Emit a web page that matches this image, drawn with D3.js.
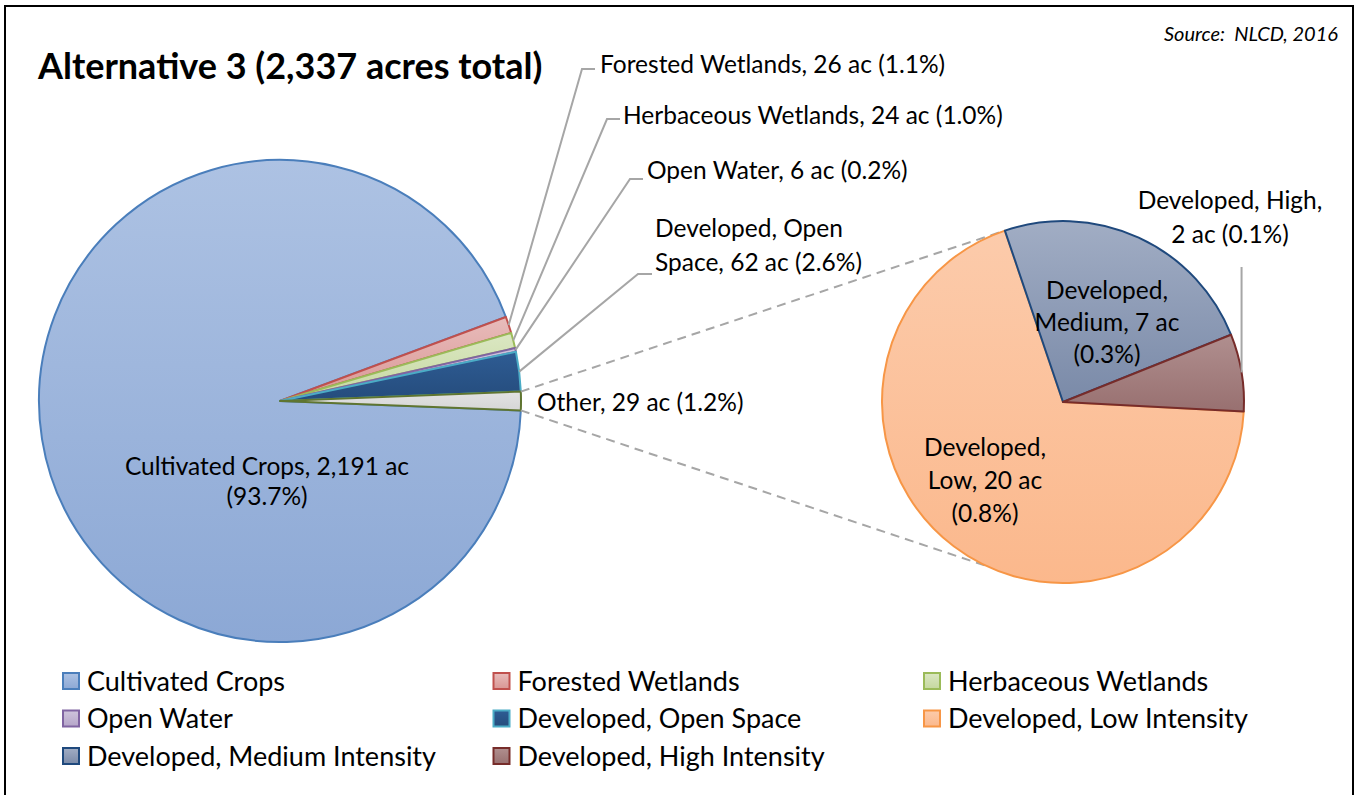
<!doctype html>
<html>
<head>
<meta charset="UTF-8">
<script src="https://cdn.jsdelivr.net/npm/d3@7"></script>
<style>
    body { margin: 0; background: #fff; }
    text { font-family: Lato, "Open Sans", sans-serif; fill: #000; }
</style>
</head>
<body>
<svg id="chart"></svg>
<script>
var width = 1359, height = 795;

// main pie (Other = the three developed classes broken out on the right)
var mainNames = ["Cultivated Crops", "Forested Wetlands", "Herbaceous Wetlands", "Open Water", "Developed, Open Space", "Other"];
var mainAcres = [2191, 26, 24, 6, 62, 29];
var mainPct = ["93.7%", "1.1%", "1.0%", "0.2%", "2.6%", "1.2%"];

// breakout pie
var subNames = ["Developed, Low Intensity", "Developed, Medium Intensity", "Developed, High Intensity"];
var subShort = ["Developed, Low", "Developed, Medium", "Developed, High"];
var subAcres = [20, 7, 2];
var subPct = ["0.8%", "0.3%", "0.1%"];

var legendNames = ["Cultivated Crops", "Forested Wetlands", "Herbaceous Wetlands",
                   "Open Water", "Developed, Open Space", "Developed, Low Intensity",
                   "Developed, Medium Intensity", "Developed, High Intensity"];

// fill top, fill bottom, outline
var colors = {
    "Cultivated Crops":            ["#adc2e3", "#8ca8d5", "#4a7ebb"],
    "Forested Wetlands":           ["#e8bcbb", "#d99694", "#c0504d"],
    "Herbaceous Wetlands":         ["#dbe7c3", "#c5d89f", "#9bbb59"],
    "Open Water":                  ["#cfc4dc", "#b5a5c9", "#8064a2"],
    "Developed, Open Space":       ["#2e5c94", "#254c7c", "#4bacc6"],
    "Other":                       ["#e2e2e2", "#d6d6d6", "#5f7530"],
    "Developed, Low Intensity":    ["#fccbab", "#fbb88c", "#f79646"],
    "Developed, Medium Intensity": ["#a1adc4", "#7a8aa8", "#1f497d"],
    "Developed, High Intensity":   ["#b08f8f", "#987070", "#772c2a"]
};

var svg = d3.select("#chart").attr("width", width).attr("height", height);
var defs = svg.append("defs");
Object.keys(colors).forEach(function(k, i){
    var g = defs.append("linearGradient").attr("id", "g" + i)
        .attr("x1", 0).attr("y1", 0).attr("x2", 0).attr("y2", 1);
    g.append("stop").attr("offset", "0%").attr("stop-color", colors[k][0]);
    g.append("stop").attr("offset", "100%").attr("stop-color", colors[k][1]);
});
function fillOf(name){ return "url(#g" + Object.keys(colors).indexOf(name) + ")"; }

// frame
svg.append("rect").attr("x", 5).attr("y", 6).attr("width", 1348).attr("height", 820)
    .attr("fill", "none").attr("stroke", "#000").attr("stroke-width", 2);

svg.append("text").attr("x", 38).attr("y", 65).attr("dominant-baseline", "central")
    .style("font-weight", "bold").style("font-size", "36px")
    .text("Alternative 3 (2,337 acres total)");
svg.append("text").attr("x", 1338).attr("y", 33).attr("dominant-baseline", "central")
    .attr("text-anchor", "end").style("font-style", "italic").style("font-size", "20px")
    .style("white-space", "pre")
    .text("Source:  NLCD, 2016");

var fmt = d3.format(",");
function wrap(str, breaks){
    var w = str.split(" "), out = [], s = 0;
    breaks.concat([w.length]).forEach(function(b){ out.push(w.slice(s, b).join(" ")); s = b; });
    return out;
}

// ---- main pie
var c1 = [280, 401], r1 = 241;
var wOther = mainAcres[5] / d3.sum(mainAcres) * 2 * Math.PI;
var a1 = Math.PI / 2 + wOther / 2;
var pie1 = d3.pie().sort(null).startAngle(a1).endAngle(a1 + 2 * Math.PI);
var arcs1 = pie1(mainAcres);
var arc1 = d3.arc().innerRadius(0).outerRadius(r1);
var edge1 = d3.arc().innerRadius(r1).outerRadius(r1);

var g1 = svg.append("g").attr("transform", "translate(" + c1 + ")");

// ---- breakout pie
var c2 = [1063, 402], r2 = 181;
var a2 = 93 * Math.PI / 180;
var pie2 = d3.pie().sort(null).startAngle(a2).endAngle(a2 + 2 * Math.PI);
var arcs2 = pie2(subAcres);
var arc2 = d3.arc().innerRadius(0).outerRadius(r2);
var edge2 = d3.arc().innerRadius(r2).outerRadius(r2);

// dashed connectors from Other slice to the breakout pie
var o = arcs1[5];
var p1 = d3.pointRadial(o.startAngle, r1), p2 = d3.pointRadial(o.endAngle, r1);
var q1 = d3.pointRadial(arcs2[0].endAngle, r2), q2 = d3.pointRadial(205 * Math.PI / 180, r2);
[[p1, q1], [p2, q2]].forEach(function(pq){
    svg.append("line")
        .attr("x1", c1[0] + pq[0][0]).attr("y1", c1[1] + pq[0][1])
        .attr("x2", c2[0] + pq[1][0]).attr("y2", c2[1] + pq[1][1])
        .attr("stroke", "#a6a6a6").attr("stroke-width", 2).attr("stroke-dasharray", "9,6");
});

g1.selectAll("path").data(arcs1).enter().append("path")
    .attr("d", arc1)
    .attr("fill", function(d, i){ return fillOf(mainNames[i]); })
    .attr("stroke", function(d, i){ return colors[mainNames[i]][2]; })
    .attr("stroke-width", 2).attr("stroke-linejoin", "round");

var g2 = svg.append("g").attr("transform", "translate(" + c2 + ")");
g2.selectAll("path").data(arcs2).enter().append("path")
    .attr("d", arc2)
    .attr("fill", function(d, i){ return fillOf(subNames[i]); })
    .attr("stroke", function(d, i){ return colors[subNames[i]][2]; })
    .attr("stroke-width", 2).attr("stroke-linejoin", "round");

// ---- labels
var mainLabels = [
    {x: 267, y: 465, anchor: "middle", gap: 30, br: [4]},
    {x: 600, y: 63,  anchor: "start", gap: 0, br: [], elbow: [582, 69, 595]},
    {x: 623, y: 114, anchor: "start", gap: 0, br: [], elbow: [607, 119, 620]},
    {x: 647, y: 169, anchor: "start", gap: 0, br: [], elbow: [630, 179, 643]},
    {x: 655, y: 227, anchor: "start", gap: 34, br: [2], elbow: [638, 274, 652]},
    {x: 537, y: 401, anchor: "start", gap: 0, br: []}
];
var subLabels = [
    {x: 985, y: 446, anchor: "middle", gap: 33, br: [1, 4]},
    {x: 1107, y: 289, anchor: "middle", gap: 32, br: [1, 4]},
    {x: 1230, y: 199, anchor: "middle", gap: 34, br: [2], top: 267}
];

function leader(pts){
    svg.append("path").attr("d", d3.line()(pts))
        .attr("fill", "none").attr("stroke", "#a6a6a6").attr("stroke-width", 2);
}
function drawLabel(L, str){
    var t = svg.append("text").attr("text-anchor", L.anchor).style("font-size", "24.5px");
    wrap(str, L.br).forEach(function(line, k){
        t.append("tspan").attr("x", L.x).attr("y", L.y + k * L.gap)
            .attr("dominant-baseline", "central").text(line);
    });
}

arcs1.forEach(function(d, i){
    var L = mainLabels[i];
    if (L.elbow) {
        var e = edge1.centroid(d);
        leader([[c1[0] + e[0], c1[1] + e[1]], [L.elbow[0], L.elbow[1]], [L.elbow[2], L.elbow[1]]]);
    }
    drawLabel(L, mainNames[i] + ", " + fmt(mainAcres[i]) + " ac (" + mainPct[i] + ")");
});
arcs2.forEach(function(d, i){
    var L = subLabels[i];
    if (L.top) {
        var e = edge2.centroid(d);
        leader([[c2[0] + e[0], c2[1] + e[1]], [c2[0] + e[0], L.top]]);
    }
    drawLabel(L, subShort[i] + ", " + fmt(subAcres[i]) + " ac (" + subPct[i] + ")");
});

// ---- legend
var legX = d3.scalePoint().domain([0, 1, 2]).range([62, 923]);
var legY = d3.scalePoint().domain([0, 1, 2]).range([681, 756]);
var leg = svg.selectAll(".leg").data(legendNames).enter().append("g")
    .attr("transform", function(d, i){ return "translate(" + legX(i % 3) + "," + legY(Math.floor(i / 3)) + ")"; });
leg.append("rect").attr("x", 1).attr("y", -8).attr("width", 16).attr("height", 16)
    .attr("fill", function(d){ return fillOf(d); })
    .attr("stroke", function(d){ return colors[d][2]; }).attr("stroke-width", 2);
leg.append("text").attr("x", 25).attr("y", -1).attr("dominant-baseline", "central")
    .style("font-size", "27px").text(function(d){ return d; });
</script>
</body>
</html>
